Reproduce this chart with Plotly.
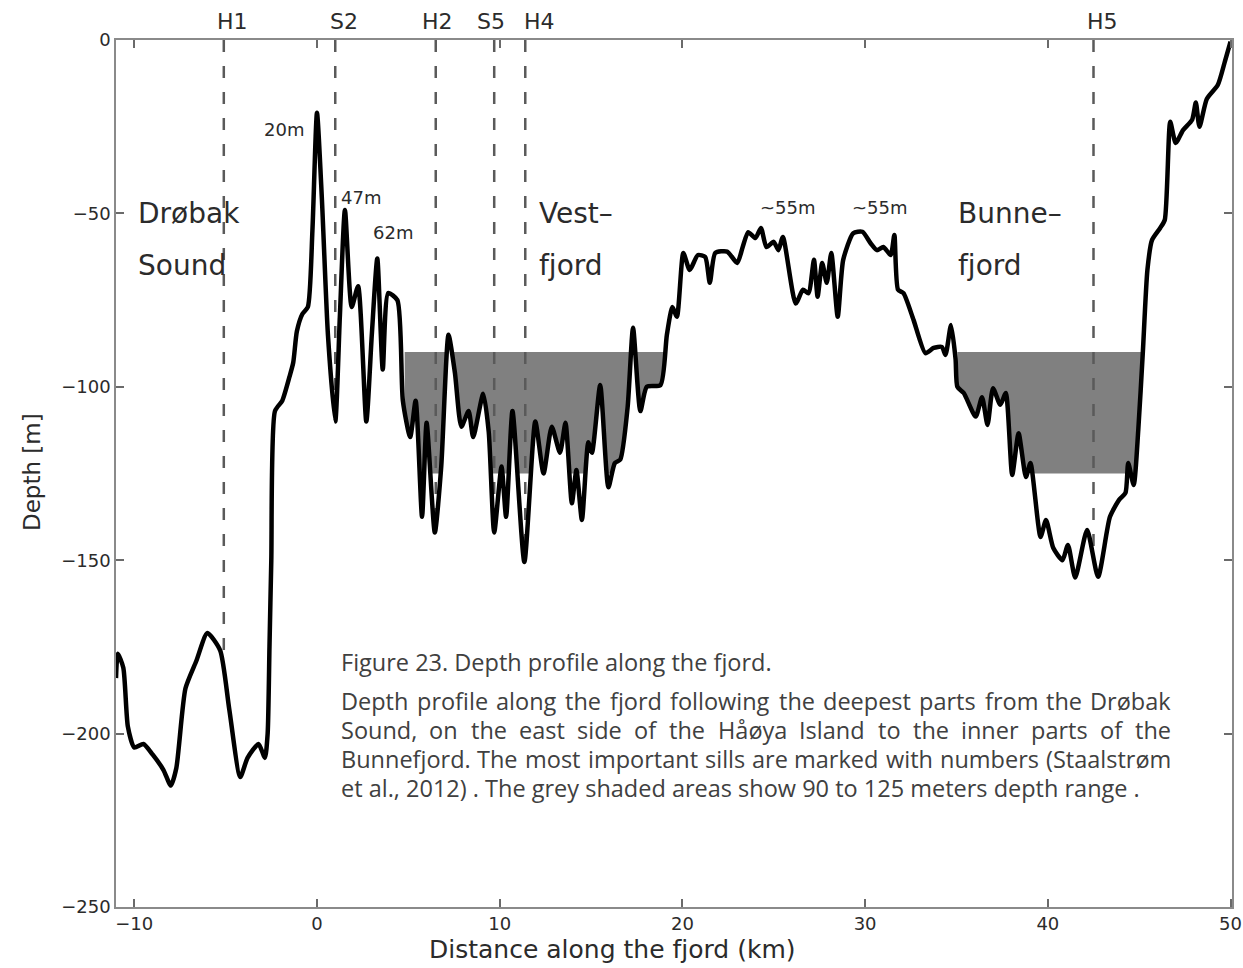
import plotly.graph_objects as go

# ---------------- data ----------------
distance_km = [
    -11.0, -10.9, -10.6, -10.35, -10.0, -9.5, -9.0, -8.4, -8.0, -7.7, -7.2, -6.6, -6.0, -5.3,
    -4.8, -4.2, -3.8, -3.2, -2.85, -2.7, -2.6, -2.5, -2.3, -1.9, -1.5, -1.3, -1.1, -0.8, -0.5,
    -0.25, 0.0, 0.27, 0.6, 1.0, 1.25, 1.53, 1.9, 2.25, 2.7, 3.0, 3.3, 3.6, 3.9, 4.4, 4.7, 5.1,
    5.4, 5.75, 6.0, 6.45, 6.8, 7.2, 7.55, 7.9, 8.3, 8.55, 9.1, 9.4, 9.7, 10.1, 10.35, 10.7,
    11.35, 11.95, 12.4, 12.85, 13.3, 13.6, 13.95, 14.2, 14.5, 14.85, 15.05, 15.5, 15.95, 16.3,
    16.6, 17.0, 17.3, 17.7, 18.05, 18.8, 19.15, 19.45, 19.7, 20.05, 20.4, 20.85, 21.25, 21.5,
    21.8, 22.45, 23.0, 23.3, 23.6, 24.0, 24.3, 24.6, 25.0, 25.25, 25.5, 26.2, 26.6, 26.9, 27.2,
    27.4, 27.65, 27.9, 28.15, 28.5, 28.8, 29.35, 29.85, 30.3, 30.65, 31.0, 31.4, 31.6, 31.8,
    32.1, 32.65, 33.3, 33.75, 34.2, 34.4, 34.7, 34.95, 35.05, 35.4, 36.05, 36.4, 36.7, 37.0,
    37.4, 37.7, 38.05, 38.4, 38.8, 39.05, 39.6, 39.9, 40.3, 40.8, 41.1, 41.5, 42.15, 42.75,
    43.4, 43.9, 44.25, 44.4, 44.7, 44.95, 45.2, 45.45, 45.7, 46.15, 46.4, 46.7, 47.0, 47.4,
    47.9, 48.1, 48.3, 48.7, 49.3, 49.7, 50.0,
]
depth_m = [
    -184, -177, -181, -198, -204, -203, -206, -210.5, -215, -210, -187, -179, -171, -176,
    -193, -212.5, -207, -203, -207, -200, -175, -150, -107, -104, -97, -93, -84, -79, -77,
    -55, -21, -46, -85, -110, -80, -49, -77, -71, -110, -85, -63, -95, -73, -75, -104, -114.5,
    -104, -137.5, -110.4, -142, -123, -85, -96, -111.5, -107, -114.5, -102, -113, -142, -123,
    -137.5, -107, -150.5, -110, -125, -111.5, -119, -110.4, -133.6, -124, -138.4, -116, -119,
    -99.5, -129, -122, -121, -106, -83, -107, -100, -99.5, -85, -77, -79.8, -61.4, -66.3, -62,
    -62.6, -70, -61.4, -61, -64.3, -59.7, -55.4, -57.1, -54.2, -59.7, -58.2, -60.6, -56.8, -76,
    -72, -73, -63.4, -74, -64.3, -70, -61.4, -79.8, -63.4, -55.7, -55.3, -58.6, -60.6, -59.7,
    -62, -56.2, -72, -73, -80.7, -90.3, -88.8, -88.5, -90.8, -82.2, -92, -100, -101.8, -108.6,
    -103, -111, -100.4, -105.2, -101.8, -125.4, -113.4, -126, -122, -143.3, -138.4, -146.5,
    -150, -145.6, -155, -141.3, -154.8, -137.5, -132.6, -130.6, -122, -128.3, -112.5, -90,
    -66.3, -57.7, -54.2, -51.9, -23.6, -29.7, -26, -23, -18, -25, -17, -13, -6, -0.5,
]

sill_names = ["H1", "S2", "H2", "S5", "H4", "H5"]
sill_km = [-5.1, 1.0, 6.5, 9.7, 11.4, 42.5]
sill_label_km = [-4.65, 1.5, 6.6, 9.5, 12.2, 43.0]

shade_start_km = [4.8, 35.05]
shade_end_km = [19.0, 45.2]
shade_top_m = -90
shade_bottom_m = -125

region_text = ["Drøbak", "Sound", "Vest–", "fjord", "Bunne–", "fjord"]
region_km = [-9.9, -9.9, 12.05, 12.05, 35.0, 35.0]
region_depth = [-50, -65, -50, -65, -50, -65]

sill_depth_text = ["20m", "47m", "62m", "~55m", "~55m"]
sill_depth_km = [-1.8, 2.4, 4.16, 25.8, 30.8]
sill_depth_m = [-25.7, -45.3, -55.4, -48.4, -48.4]

x_ticks = [-10, 0, 10, 20, 30, 40, 50]
y_ticks = [0, -50, -100, -150, -200, -250]

caption_title = "Figure 23. Depth profile along the fjord."
caption_lines = [
    "Depth profile along the fjord following the deepest parts from the Drøbak",
    "Sound, on the east side of the Håøya Island to the inner parts of the",
    "Bunnefjord. The most important sills are marked with numbers (Staalstrøm",
    "et al., 2012) . The grey shaded areas show 90 to 125 meters depth range .",
]

# ---------------- layout geometry ----------------
W, H = 1243, 968
L, R, T, B = 116, 11, 40, 61
PW, PH = W - L - R, H - T - B


def px_x(px):
    return (px - L) / PW


def px_y(py):
    return (H - B - py) / PH


AX_FONT = "DejaVu Sans"
TXT = "#2b2b2b"

fig = go.Figure()

# baseline for white fill under the bottom profile
fig.add_trace(go.Scatter(x=[x_ticks[0] - 1, x_ticks[-1]], y=[y_ticks[-1], y_ticks[-1]],
                         mode="lines", line=dict(width=0, color="white"),
                         hoverinfo="skip", showlegend=False))
fig.add_trace(go.Scatter(x=distance_km, y=depth_m, mode="lines",
                         line=dict(color="black", width=4.5, shape="spline", smoothing=0.6),
                         fill="tonexty", fillcolor="white", showlegend=False))

shapes = []
for x0, x1 in zip(shade_start_km, shade_end_km):
    shapes.append(dict(type="rect", xref="x", yref="y", x0=x0, x1=x1,
                       y0=shade_bottom_m, y1=shade_top_m, fillcolor="#808080",
                       line=dict(width=0), layer="below"))
for xs in sill_km:
    shapes.append(dict(type="line", xref="x", yref="y", x0=xs, x1=xs,
                       y0=y_ticks[0], y1=y_ticks[-1],
                       line=dict(color="#5a5a5a", width=2.5, dash="12px,14px"),
                       layer="below"))

ann = []
for name, xl in zip(sill_names, sill_label_km):
    ann.append(dict(x=xl, y=px_y(22), xref="x", yref="paper", text=name, showarrow=False,
                    font=dict(family=AX_FONT, size=22, color=TXT), xanchor="center",
                    yanchor="middle"))
for t, xk, yd in zip(region_text, region_km, region_depth):
    ann.append(dict(x=xk, y=yd, xref="x", yref="y", text=t, showarrow=False,
                    font=dict(family=AX_FONT, size=28, color=TXT), xanchor="left",
                    yanchor="middle"))
for t, xk, yd in zip(sill_depth_text, sill_depth_km, sill_depth_m):
    ann.append(dict(x=xk, y=yd, xref="x", yref="y", text=t, showarrow=False,
                    font=dict(family=AX_FONT, size=18, color=TXT), xanchor="center",
                    yanchor="middle"))

# axis titles
ann.append(dict(x=px_x(612), y=px_y(949), xref="paper", yref="paper",
                text="Distance along the fjord (km)", showarrow=False,
                font=dict(family=AX_FONT, size=25, color=TXT), xanchor="center",
                yanchor="middle"))
ann.append(dict(x=px_x(32), y=px_y(472), xref="paper", yref="paper", text="Depth [m]",
                showarrow=False, textangle=-90,
                font=dict(family=AX_FONT, size=23, color=TXT), xanchor="center",
                yanchor="middle"))

# caption (justified text built word by word)
CAP_FONT = "Open Sans"
CAP_SIZE = 23.5
CAP_COLOR = "#404040"
EM = {" ": .26, "a": .556, "b": .613, "c": .476, "d": .613, "e": .561, "f": .343, "g": .548,
      "h": .614, "i": .253, "j": .253, "k": .525, "l": .253, "m": .93, "n": .614, "o": .604,
      "p": .613, "q": .613, "r": .408, "s": .477, "t": .355, "u": .614, "v": .501, "w": .788,
      "x": .524, "y": .501, "z": .463, "B": .631, "D": .715, "F": .53, "H": .737, "I": .279,
      "S": .549, "T": .556, ".": .266, ",": .245, "(": .296, ")": .296, "ø": .604, "å": .556}


def text_px(s):
    return sum(EM.get(c, .572) for c in s) * CAP_SIZE


CAP_L, CAP_R = 341, 1171
ann.append(dict(x=px_x(CAP_L), y=px_y(662), xref="paper", yref="paper", text=caption_title,
                showarrow=False, font=dict(family=CAP_FONT, size=CAP_SIZE, color=CAP_COLOR),
                xanchor="left", yanchor="middle", borderpad=0, borderwidth=0))
line_y = [701, 730, 759, 788]
for i, (line, yy) in enumerate(zip(caption_lines, line_y)):
    if i < len(caption_lines) - 1:
        words = line.split(" ")
        widths = [text_px(w) for w in words]
        gap = (CAP_R - CAP_L - sum(widths)) / (len(words) - 1)
        xx = CAP_L
        for w, wd in zip(words, widths):
            ann.append(dict(x=px_x(xx + wd / 2), y=px_y(yy), xref="paper", yref="paper",
                            text=w, showarrow=False,
                            font=dict(family=CAP_FONT, size=CAP_SIZE, color=CAP_COLOR),
                            xanchor="center", yanchor="middle", borderpad=0, borderwidth=0))
            xx += wd + gap
    else:
        ann.append(dict(x=px_x(CAP_L), y=px_y(yy), xref="paper", yref="paper", text=line,
                        showarrow=False,
                        font=dict(family=CAP_FONT, size=CAP_SIZE, color=CAP_COLOR),
                        xanchor="left", yanchor="middle", borderpad=0, borderwidth=0))

axis_common = dict(showgrid=False, zeroline=False, showline=True, linecolor="#8a8a8a",
                   linewidth=1.5, mirror="ticks", ticks="inside", ticklen=8, tickwidth=1.5,
                   tickcolor="#6a6a6a", tickfont=dict(family=AX_FONT, size=18, color=TXT))

fig.update_layout(
    width=W, height=H,
    margin=dict(l=L, r=R, t=T, b=B, autoexpand=False),
    paper_bgcolor="white", plot_bgcolor="white",
    xaxis=dict(range=[-11.0, 50.08], tickvals=x_ticks, **axis_common),
    yaxis=dict(range=[y_ticks[-1], y_ticks[0]], tickvals=y_ticks, **axis_common),
    shapes=shapes, annotations=ann, showlegend=False,
)

fig.write_html("out.html", config={"displayModeBar": False},
               post_script="document.body.style.margin='0';")
